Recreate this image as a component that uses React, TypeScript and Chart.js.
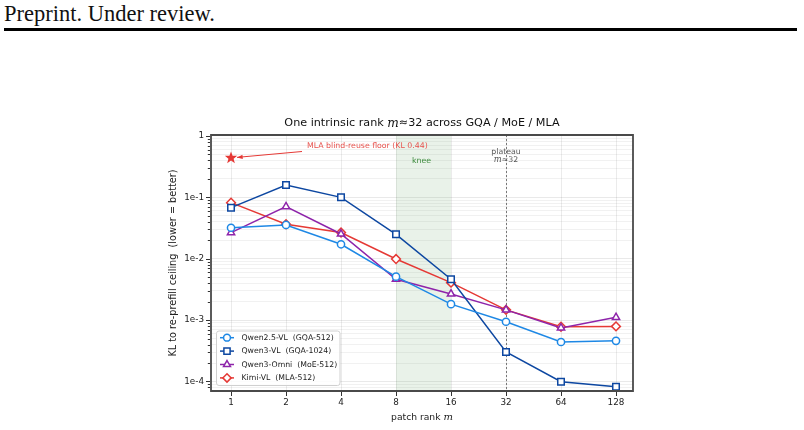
import React, { useEffect, useRef } from 'react';
import { Chart, registerables } from 'chart.js';

Chart.register(...registerables);

// ---- data ----
const ranks = [1, 2, 4, 8, 16, 32, 64, 128];
const qwen25vl = [0.032, 0.0355, 0.0172, 0.0051, 0.00182, 0.00094, 0.00044, 0.00046];
const qwen3vl = [0.068, 0.159, 0.1, 0.025, 0.00464, 0.000303, 0.000099, 0.000082];
const qwen3omni = [0.0267, 0.0706, 0.0253, 0.00464, 0.00267, 0.00147, 0.000747, 0.00111];
const kimivl = [0.082, 0.0365, 0.0267, 0.0099, 0.00408, 0.00147, 0.00078, 0.00079];
const seriesNames = [
  'Qwen2.5-VL  (GQA-512)',
  'Qwen3-VL  (GQA-1024)',
  'Qwen3-Omni  (MoE-512)',
  'Kimi-VL  (MLA-512)',
];
const seriesValues = [qwen25vl, qwen3vl, qwen3omni, kimivl];
const seriesColors = ['#1e88e5', '#0d47a1', '#8e24aa', '#e53935'];
const seriesMarkers = ['circle', 'rect', 'triangle', 'rectRot'];
const seriesRadius = [3.6, 4.6, 4.2, 4.4];

const mlaFloorRank = 1;
const mlaFloorValue = 0.44;
const mlaFloorLabel = 'MLA blind-reuse floor (KL 0.44)';
const kneeStart = 8;
const kneeEnd = 16;
const plateauRank = 32;
const yMajorTicks = [1e-4, 1e-3, 1e-2, 1e-1, 1];
const yMajorLabels = ['1e-4', '1e-3', '1e-2', '1e-1', '1'];

const Y_MIN = 7.06e-5;
const Y_MAX = 1.038;
const X_MIN = -0.364;
const X_MAX = 7.309;

const SANS = '"DejaVu Sans", sans-serif';
const MATH = '"DejaVu Serif", serif';

function isMajor(v: number) {
  return yMajorTicks.some((m) => Math.abs(v / m - 1) < 1e-6);
}

function markerPath(ctx: CanvasRenderingContext2D, style: string, x: number, y: number, r: number) {
  ctx.beginPath();
  if (style === 'circle') {
    ctx.arc(x, y, r, 0, Math.PI * 2);
  } else if (style === 'rect') {
    const s = Math.SQRT1_2 * r;
    ctx.rect(x - s, y - s, 2 * s, 2 * s);
  } else if (style === 'triangle') {
    ctx.moveTo(x, y - r);
    ctx.lineTo(x + r * 0.866, y + r * 0.5);
    ctx.lineTo(x - r * 0.866, y + r * 0.5);
    ctx.closePath();
  } else {
    ctx.moveTo(x, y - r);
    ctx.lineTo(x + r, y);
    ctx.lineTo(x, y + r);
    ctx.lineTo(x - r, y);
    ctx.closePath();
  }
}

function drawMixed(ctx: CanvasRenderingContext2D, parts: { t: string; f: string }[], cx: number, cy: number) {
  let total = 0;
  const widths = parts.map((p) => {
    ctx.font = p.f;
    const w = ctx.measureText(p.t).width;
    total += w;
    return w;
  });
  let x = cx - total / 2;
  ctx.textAlign = 'left';
  ctx.textBaseline = 'middle';
  parts.forEach((p, i) => {
    ctx.font = p.f;
    ctx.fillText(p.t, x, cy);
    x += widths[i];
  });
}

const decorPlugin = {
  id: 'decor',
  beforeDatasetsDraw(chart: any) {
    const { ctx, chartArea } = chart;
    const xs = chart.scales.x;
    ctx.save();
    const x0 = xs.getPixelForValue(Math.log2(kneeStart));
    const x1 = xs.getPixelForValue(Math.log2(kneeEnd));
    ctx.fillStyle = 'rgba(76, 150, 76, 0.12)';
    ctx.fillRect(x0, chartArea.top, x1 - x0, chartArea.bottom - chartArea.top);
    const xp = Math.round(xs.getPixelForValue(Math.log2(plateauRank))) + 0.5;
    ctx.strokeStyle = '#777';
    ctx.lineWidth = 1;
    ctx.setLineDash([2, 2]);
    ctx.beginPath();
    ctx.moveTo(xp, chartArea.top);
    ctx.lineTo(xp, chartArea.bottom);
    ctx.stroke();
    ctx.restore();
  },
  afterDatasetsDraw(chart: any) {
    const { ctx, chartArea } = chart;
    const xs = chart.scales.x;
    const ys = chart.scales.y;
    ctx.save();

    // knee & plateau labels
    const xk = (xs.getPixelForValue(Math.log2(kneeStart)) + xs.getPixelForValue(Math.log2(kneeEnd))) / 2;
    ctx.fillStyle = '#3d8b3d';
    ctx.font = `7.8px ${SANS}`;
    ctx.textAlign = 'center';
    ctx.textBaseline = 'middle';
    ctx.fillText('knee', xk - 2, chartArea.top + 26);

    const xp = xs.getPixelForValue(Math.log2(plateauRank));
    ctx.fillStyle = '#555';
    ctx.font = `7.8px ${SANS}`;
    ctx.fillText('plateau', xp, chartArea.top + 17);
    drawMixed(
      ctx,
      [
        { t: 'm', f: `italic 8.4px ${MATH}` },
        { t: '\u224832', f: `7.8px ${SANS}` },
      ],
      xp,
      chartArea.top + 25
    );

    // MLA floor star + arrow
    const sx = xs.getPixelForValue(Math.log2(mlaFloorRank));
    const sy = ys.getPixelForValue(mlaFloorValue);
    const red = '#e53935';
    const tx = 302;
    const ty = chartArea.top + 16.5;
    ctx.strokeStyle = red;
    ctx.lineWidth = 1;
    ctx.beginPath();
    ctx.moveTo(tx, ty);
    ctx.lineTo(sx + 6, sy - 0.5);
    ctx.stroke();
    const ang = Math.atan2(sy - 0.5 - ty, sx + 6 - tx);
    ctx.fillStyle = red;
    ctx.beginPath();
    ctx.moveTo(sx + 6, sy - 0.5);
    ctx.lineTo(sx + 6 - 6 * Math.cos(ang - 0.35), sy - 0.5 - 6 * Math.sin(ang - 0.35));
    ctx.lineTo(sx + 6 - 6 * Math.cos(ang + 0.35), sy - 0.5 - 6 * Math.sin(ang + 0.35));
    ctx.closePath();
    ctx.fill();
    ctx.beginPath();
    const R = 6.5;
    const r = R * 0.42;
    for (let i = 0; i < 10; i++) {
      const rr = i % 2 === 0 ? R : r;
      const a = -Math.PI / 2 + (i * Math.PI) / 5;
      const px = sx + rr * Math.cos(a);
      const py = sy + rr * Math.sin(a);
      if (i === 0) ctx.moveTo(px, py);
      else ctx.lineTo(px, py);
    }
    ctx.closePath();
    ctx.fill();
    ctx.fillStyle = '#e8534e';
    ctx.font = `7.8px ${SANS}`;
    ctx.textAlign = 'left';
    ctx.textBaseline = 'middle';
    ctx.fillText(mlaFloorLabel, tx + 5, chartArea.top + 10.5);

    // legend
    const lx = 216.5;
    const ly = 331;
    const lw = 123.5;
    const lh = 54.5;
    ctx.fillStyle = 'rgba(255,255,255,0.85)';
    ctx.strokeStyle = '#d0d0d0';
    ctx.lineWidth = 1;
    ctx.beginPath();
    if ((ctx as any).roundRect) (ctx as any).roundRect(lx, ly, lw, lh, 2.5);
    else ctx.rect(lx, ly, lw, lh);
    ctx.fill();
    ctx.stroke();
    seriesNames.forEach((name, i) => {
      const ry = ly + 6.7 + i * 13.4;
      ctx.strokeStyle = seriesColors[i];
      ctx.lineWidth = 1.5;
      ctx.beginPath();
      ctx.moveTo(lx + 3.5, ry);
      ctx.lineTo(lx + 17.5, ry);
      ctx.stroke();
      markerPath(ctx, seriesMarkers[i], lx + 10.5, ry, seriesRadius[i] * 0.95);
      ctx.fillStyle = '#fff';
      ctx.fill();
      ctx.stroke();
      ctx.fillStyle = '#222';
      ctx.font = `7.75px ${SANS}`;
      ctx.textAlign = 'left';
      ctx.textBaseline = 'middle';
      ctx.fillText(name, lx + 25, ry + 0.3);
    });

    // spines
    ctx.strokeStyle = '#4a4a4a';
    ctx.lineWidth = 1.8;
    ctx.beginPath();
    ctx.rect(chartArea.left, chartArea.top, chartArea.right - chartArea.left, chartArea.bottom - chartArea.top);
    ctx.stroke();

    // tick marks
    ctx.strokeStyle = '#333';
    ctx.lineWidth = 1;
    ys.ticks.forEach((t: any) => {
      const y = Math.round(ys.getPixelForValue(t.value)) + 0.5;
      const len = isMajor(t.value) ? 4 : 2.2;
      ctx.beginPath();
      ctx.moveTo(chartArea.left - 1, y);
      ctx.lineTo(chartArea.left - 1 - len, y);
      ctx.stroke();
    });
    xs.ticks.forEach((t: any) => {
      const x = Math.round(xs.getPixelForValue(t.value)) + 0.5;
      ctx.beginPath();
      ctx.moveTo(x, chartArea.bottom + 1);
      ctx.lineTo(x, chartArea.bottom + 5);
      ctx.stroke();
    });

    // title
    const cx = (chartArea.left + chartArea.right) / 2;
    ctx.fillStyle = '#111';
    drawMixed(
      ctx,
      [
        { t: 'One intrinsic rank ', f: `11.2px ${SANS}` },
        { t: 'm', f: `italic 12.2px ${MATH}` },
        { t: '\u224832 across GQA / MoE / MLA', f: `11.2px ${SANS}` },
      ],
      cx,
      chartArea.top - 11.5
    );

    // x axis label
    ctx.fillStyle = '#222';
    drawMixed(
      ctx,
      [
        { t: 'patch rank ', f: `9.2px ${SANS}` },
        { t: 'm', f: `italic 10px ${MATH}` },
      ],
      cx,
      chartArea.bottom + 26.5
    );

    // y axis label
    ctx.translate(173.5, (chartArea.top + chartArea.bottom) / 2);
    ctx.rotate(-Math.PI / 2);
    ctx.font = `9.7px ${SANS}`;
    ctx.textAlign = 'center';
    ctx.textBaseline = 'middle';
    ctx.fillText('KL to re-prefill ceiling  (lower = better)', 0, 0);

    ctx.restore();
  },
};

export default function App() {
  const canvasRef = useRef<HTMLCanvasElement | null>(null);

  useEffect(() => {
    if (!canvasRef.current) return;
    const datasets = seriesNames.map((name, i) => ({
      label: name,
      data: ranks.map((r, j) => ({ x: Math.log2(r), y: seriesValues[i][j] })),
      borderColor: seriesColors[i],
      backgroundColor: '#ffffff',
      borderWidth: 1.5,
      pointStyle: seriesMarkers[i] as any,
      pointRadius: seriesRadius[i],
      pointBorderWidth: 1.5,
      pointBackgroundColor: '#ffffff',
      pointBorderColor: seriesColors[i],
      tension: 0,
      fill: false,
    }));

    const chart = new Chart(canvasRef.current, {
      type: 'line',
      data: { datasets },
      options: {
        animation: false,
        responsive: false,
        devicePixelRatio: 1,
        layout: { padding: { left: 0, top: 135, right: 171, bottom: 0 } },
        plugins: {
          legend: { display: false },
          tooltip: { enabled: false },
          title: { display: false },
        },
        scales: {
          x: {
            type: 'linear',
            min: X_MIN,
            max: X_MAX,
            afterBuildTicks: (s: any) => {
              s.ticks = ranks.map((r) => ({ value: Math.log2(r) }));
            },
            afterFit: (s: any) => {
              s.height = 39;
            },
            ticks: {
              autoSkip: false,
              maxRotation: 0,
              padding: 6,
              color: '#222',
              font: { family: SANS, size: 8.8 },
              callback: (v: any) => String(Math.round(Math.pow(2, Number(v)))),
            },
            grid: { color: 'rgba(0,0,0,0.1)', drawTicks: false, lineWidth: 0.8 },
            border: { display: false },
          },
          y: {
            type: 'logarithmic',
            min: Y_MIN,
            max: Y_MAX,
            afterBuildTicks: (s: any) => {
              const list: any[] = [];
              for (let d = -5; d <= 0; d++) {
                for (let k = 1; k <= 9; k++) {
                  const v = k * Math.pow(10, d);
                  if (v >= Y_MIN && v <= Y_MAX) list.push({ value: v });
                }
              }
              s.ticks = list;
            },
            afterFit: (s: any) => {
              s.width = 211;
            },
            ticks: {
              autoSkip: false,
              padding: 7,
              color: '#222',
              font: { family: SANS, size: 8.8 },
              callback: (v: any) => {
                const idx = yMajorTicks.findIndex((m) => Math.abs(Number(v) / m - 1) < 1e-6);
                return idx >= 0 ? yMajorLabels[idx] : '';
              },
            },
            grid: {
              drawTicks: false,
              lineWidth: 0.8,
              color: (c: any) => (c.tick && isMajor(c.tick.value) ? 'rgba(0,0,0,0.11)' : 'rgba(0,0,0,0.07)'),
            },
            border: { display: false },
          },
        },
      },
      plugins: [decorPlugin],
    });
    return () => chart.destroy();
  }, []);

  return (
    <div style={{ position: 'fixed', left: 0, top: 0, width: 804, height: 430, background: '#fff' }}>
      <div
        style={{
          position: 'absolute',
          left: 4,
          top: 1,
          fontFamily: '"Liberation Serif", "DejaVu Serif", serif',
          fontSize: 22.5,
          lineHeight: '25px',
          color: '#111',
          whiteSpace: 'nowrap',
        }}
      >
        Preprint. Under review.
      </div>
      <div style={{ position: 'absolute', left: 4, top: 28, width: 793, height: 3, background: '#000' }} />
      <canvas
        ref={canvasRef}
        width={804}
        height={430}
        style={{ position: 'absolute', left: 0, top: 0, width: 804, height: 430 }}
      />
    </div>
  );
}
